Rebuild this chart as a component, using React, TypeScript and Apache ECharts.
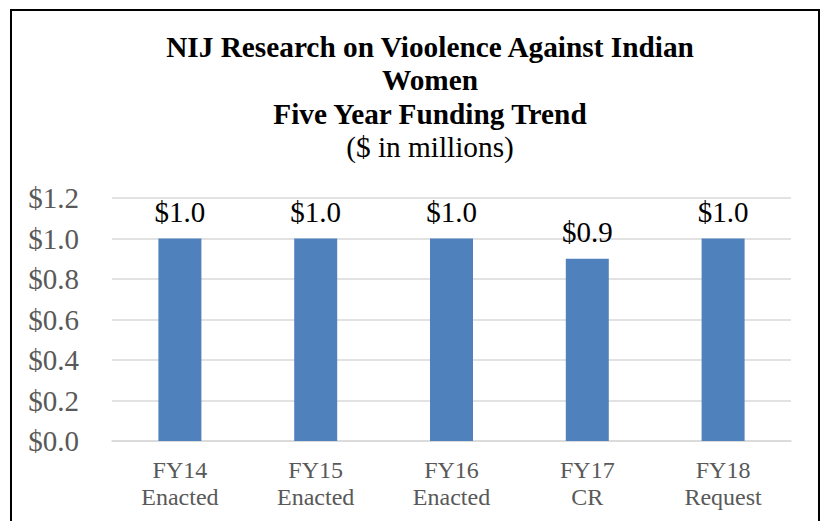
import React, { useEffect, useRef } from "react";
import * as echarts from "echarts";

const categories = ["FY14\nEnacted", "FY15\nEnacted", "FY16\nEnacted", "FY17\nCR", "FY18\nRequest"];
const funding = [1.0, 1.0, 1.0, 0.9, 1.0];
const titleLines = ["NIJ Research on Vioolence Against Indian", "Women", "Five Year Funding Trend"];
const subtitle = "($ in millions)";

const FONT = "'Liberation Serif', 'Times New Roman', serif";

export default function App() {
  const ref = useRef<HTMLDivElement>(null);
  useEffect(() => {
    if (!ref.current) return;
    const chart = echarts.init(ref.current, undefined, { renderer: "svg" });
    chart.setOption({
      animation: false,
      backgroundColor: "#ffffff",
      title: {
        text: titleLines.join("\n"),
        subtext: subtitle,
        left: 430,
        top: 30,
        textAlign: "center",
        itemGap: 0,
        padding: 0,
        textStyle: {
          fontFamily: FONT,
          fontSize: 29.3,
          fontWeight: "bold",
          color: "#000",
          lineHeight: 33.5,
        },
        subtextStyle: {
          fontFamily: FONT,
          fontSize: 29.3,
          color: "#000",
          lineHeight: 33.5,
        },
      },
      graphic: [
        {
          type: "rect",
          shape: { x: 11, y: 10, width: 808, height: 600 },
          style: { fill: "none", stroke: "#000", lineWidth: 2 },
          silent: true,
        },
      ],
      grid: { left: 112, right: 33, top: 198, bottom: 80, containLabel: false },
      xAxis: {
        type: "category",
        data: categories,
        axisLine: { show: true, lineStyle: { color: "#D9D9D9", width: 1.5 } },
        axisTick: { show: false },
        axisLabel: {
          fontFamily: FONT,
          fontSize: 24,
          lineHeight: 27,
          color: "#595959",
          margin: 15,
          interval: 0,
        },
      },
      yAxis: {
        type: "value",
        min: 0,
        max: 1.2,
        interval: 0.2,
        axisLine: { show: false },
        axisTick: { show: false },
        splitLine: { lineStyle: { color: "#D9D9D9", width: 1.5 } },
        axisLabel: {
          fontFamily: FONT,
          fontSize: 29,
          color: "#595959",
          margin: 33,
          formatter: (v: number) => "$" + v.toFixed(1),
        },
      },
      series: [
        {
          type: "bar",
          data: funding,
          barWidth: 43,
          itemStyle: { color: "#4F81BD" },
          label: {
            show: true,
            position: "top",
            distance: 12,
            fontFamily: FONT,
            fontSize: 29,
            color: "#000",
            formatter: (p: any) => "$" + Number(p.value).toFixed(1),
          },
        },
      ],
    });
    return () => chart.dispose();
  }, []);
  return (
    <div
      ref={ref}
      style={{ position: "absolute", left: 0, top: 0, width: 824, height: 521 }}
    />
  );
}
